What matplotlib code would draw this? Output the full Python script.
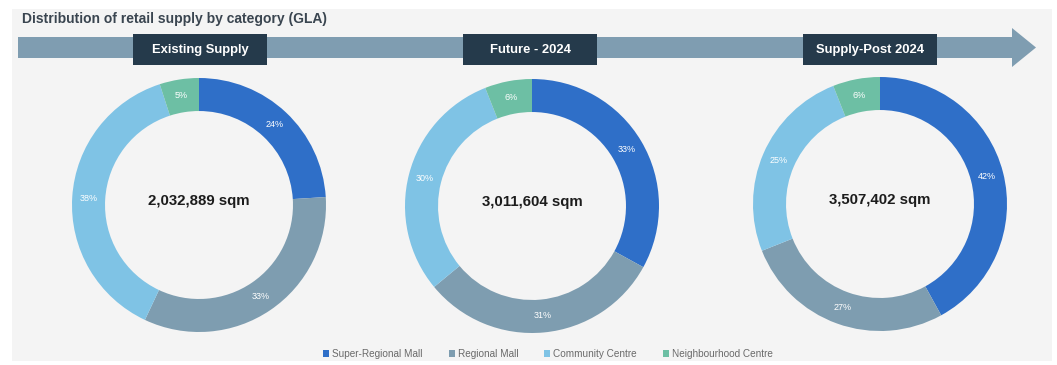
import matplotlib.pyplot as plt
from matplotlib.patches import Polygon, Rectangle

plt.rcParams['font.family'] = ['Liberation Sans', 'DejaVu Sans']

# retail supply by category (share of GLA, %)
categories = ['Super-Regional Mall', 'Regional Mall', 'Community Centre', 'Neighbourhood Centre']
phases = ['Existing Supply', 'Future - 2024', 'Supply-Post 2024']
totals = ['2,032,889 sqm', '3,011,604 sqm', '3,507,402 sqm']
existing = [24, 33, 38, 5]
future = [33, 31, 30, 6]
post_2024 = [42, 27, 25, 6]

colors = ['#2f6fc8', '#7e9db0', '#7fc3e5', '#6dbfa4']
band = '#7f9db1'
navy = '#253a4b'

W, H = 1057, 365
fig = plt.figure(figsize=(W / 100, H / 100), dpi=100)
fig.patch.set_facecolor('white')

# background layer in pixel coordinates
bg = fig.add_axes([0, 0, 1, 1])
bg.set_xlim(0, W)
bg.set_ylim(H, 0)
bg.axis('off')
bg.add_patch(Rectangle((12, 9), 1040, 352, facecolor='#f4f4f4', edgecolor='none'))

bg.text(22, 18.5, 'Distribution of retail supply by category (GLA)', fontsize=10,
        fontweight='bold', color='#3a4550', va='center', ha='left')

# timeline arrow
bg.add_patch(Polygon([(18, 37), (1012, 37), (1012, 28), (1036, 47.5),
                      (1012, 67), (1012, 58), (18, 58)],
                     closed=True, facecolor=band, edgecolor='none'))

box_x = [133, 463, 803]
for x0, name in zip(box_x, phases):
    bg.add_patch(Rectangle((x0, 34), 134, 31, facecolor=navy, edgecolor='none'))
    bg.text(x0 + 67, 50, name, color='white', fontsize=9.4, fontweight='bold',
            ha='center', va='center')

# donuts
centers = [(199, 205), (532, 206), (880, 204)]
radius = 127
series = [existing, future, post_2024]
wedges = None
for (cx, cy), vals, total in zip(centers, series, totals):
    ax = fig.add_axes([(cx - radius) / W, (H - cy - radius) / H,
                       2 * radius / W, 2 * radius / H])
    ax.set_facecolor('none')
    wedges, texts = ax.pie(vals, colors=colors, startangle=90, counterclock=False,
                           radius=1.0, wedgeprops=dict(width=0.26, edgecolor='none'),
                           labels=[f'{v}%' for v in vals], labeldistance=0.87,
                           textprops=dict(color='white', fontsize=6.5, ha='center', va='center'))
    ax.set_xlim(-1, 1)
    ax.set_ylim(-1, 1)
    ax.set_aspect('equal')
    ax.text(0, 0.03, total, ha='center', va='center', fontsize=10.8,
            fontweight='bold', color='#1c1c1c')

fig.legend(wedges, categories, loc='center', bbox_to_anchor=(548 / W, 1 - 354 / H),
           ncol=4, frameon=False, fontsize=7.2, labelcolor='#6a6a6a',
           handlelength=0.6, handleheight=0.6, handletextpad=0.3, columnspacing=2.6)

fig.savefig('out.png', dpi=100, facecolor=fig.get_facecolor())
